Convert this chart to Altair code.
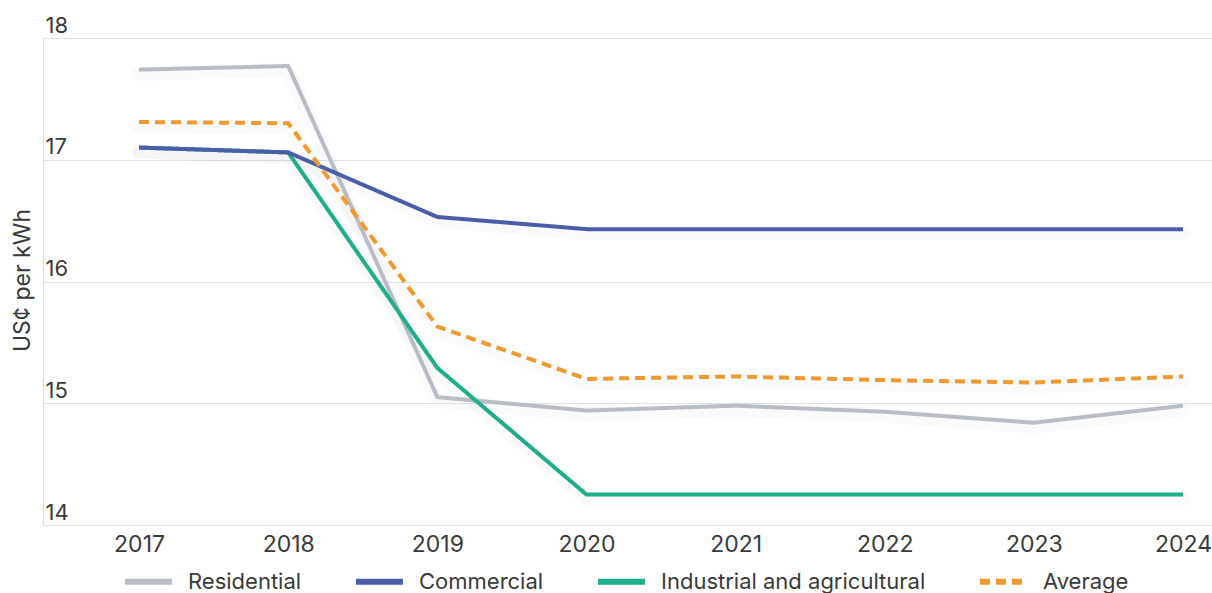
import altair as alt
import pandas as pd

# Electricity tariffs by customer class, US cents per kWh
years = [2017, 2018, 2019, 2020, 2021, 2022, 2023, 2024]
series_names = ["Residential", "Commercial", "Industrial and agricultural", "Average"]
residential = [17.74, 17.77, 15.05, 14.94, 14.98, 14.93, 14.84, 14.98]
commercial = [17.10, 17.06, 16.53, 16.43, 16.43, 16.43, 16.43, 16.43]
industrial = [17.10, 17.06, 15.29, 14.25, 14.25, 14.25, 14.25, 14.25]
average = [17.31, 17.30, 15.63, 15.20, 15.22, 15.19, 15.17, 15.22]
series_colors = ["#B8BDC5", "#4A5EA8", "#1DAE8B", "#EE9A2E"]
y_ticks = [14, 15, 16, 17, 18]

rows = []
for name, vals in zip(series_names, [residential, commercial, industrial, average]):
    for yr, v in zip(years, vals):
        rows.append({"year": yr, "value": v, "series": name})
df = pd.DataFrame(rows)

FONT = "Inter"
TEXT = "#3a3a3a"

x_enc = alt.X(
    "year:Q",
    scale=alt.Scale(domain=[2016.356, 2024.194], nice=False, zero=False),
    axis=alt.Axis(
        values=years, format="d", title=None, grid=False, ticks=False,
        domain=False, labelFontSize=23, labelColor=TEXT, labelFont=FONT,
        labelPadding=8, labelFlush=False,
    ),
)
y_enc = alt.Y(
    "value:Q",
    scale=alt.Scale(domain=[14, 18], nice=False, zero=False),
    axis=alt.Axis(
        values=y_ticks, title="US¢ per kWh", grid=True, gridColor="#E2E2E2",
        gridWidth=1, ticks=False, domain=False, labelAlign="left",
        labelBaseline="alphabetic", labelPadding=-2, labelOffset=-6,
        labelFontSize=22, labelColor=TEXT, labelFont=FONT,
        titleFontSize=23, titleFont=FONT, titleColor=TEXT,
        titleFontWeight="normal", titleX=-9, titleY=242,
    ),
)

color_enc = alt.Color(
    "series:N",
    scale=alt.Scale(domain=series_names, range=series_colors),
    legend=alt.Legend(
        title=None, orient="none", direction="horizontal", columns=4,
        legendX=79, legendY=517, symbolType="stroke", symbolSize=2200,
        symbolStrokeWidth=6, symbolOpacity=1, labelFontSize=22,
        labelColor=TEXT, labelFont=FONT, labelLimit=400,
        columnPadding=42, labelOffset=13,
    ),
)
dash_enc = alt.StrokeDash(
    "series:N",
    scale=alt.Scale(domain=series_names, range=[[1, 0], [1, 0], [1, 0], [10, 6]]),
    legend=None,
)

# soft shadow beneath each line
shadow = alt.Chart(df).mark_line(
    strokeWidth=14, color="#9aa0a8", opacity=0.05, yOffset=4, strokeCap="round"
).encode(x=x_enc, y=y_enc, detail="series:N")

# commercial drawn after industrial so it sits on top where they coincide
draw_order = ["Residential", "Industrial and agricultural", "Commercial", "Average"]
layers = [shadow]
for name in draw_order:
    layers.append(
        alt.Chart(df)
        .transform_filter(alt.datum.series == name)
        .mark_line(strokeWidth=4)
        .encode(x=x_enc, y=y_enc, color=color_enc, strokeDash=dash_enc)
    )

chart = (
    alt.layer(*layers)
    .properties(
        width=1169, height=487,
        padding={"left": 43, "top": 38, "right": 0, "bottom": 68},
        autosize=alt.AutoSizeParams(type="none"),
    )
    .configure_view(stroke=None)
    .configure(background="white")
)

chart.save("out.html", embed_options={"renderer": "svg", "actions": False})
